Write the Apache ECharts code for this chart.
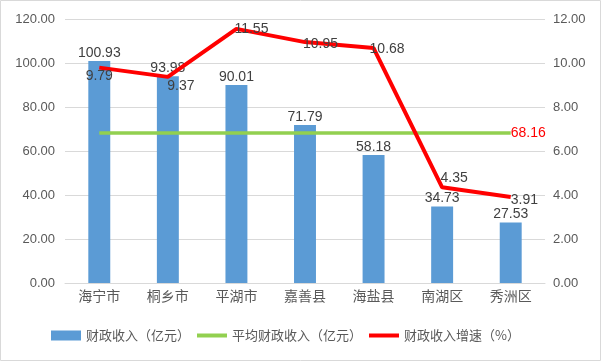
<!DOCTYPE html>
<html><head><meta charset="utf-8">
<script src="https://cdn.jsdelivr.net/npm/echarts@6/dist/echarts.min.js"></script>
<style>html,body{margin:0;padding:0;background:#fff}#c{width:602px;height:362px}</style>
</head><body><div id="c"></div>
<script>
var categories = ['海宁市','桐乡市','平湖市','嘉善县','海盐县','南湖区','秀洲区'];
var revenue = [100.93, 93.98, 90.01, 71.79, 58.18, 34.73, 27.53];
var avgRevenue = 68.16;
var growth = [9.79, 9.37, 11.55, 10.95, 10.68, 4.35, 3.91];
var leftTicks = {min: 0, max: 120, interval: 20};
var rightTicks = {min: 0, max: 12, interval: 2};
var seriesNames = ['财政收入（亿元）','平均财政收入（亿元）','财政收入增速（%）'];

var avgData = categories.map(function(){ return avgRevenue; });
var growthLabelPos = [
  {position:'bottom', distance:2, offset:[0,0]},
  {position:'bottom', distance:2, offset:[13,0]},
  {position:'right', distance:-2, offset:[0,0]},
  {position:'right', distance:-2, offset:[0,2]},
  {position:'right', distance:-4, offset:[0,1]},
  {position:'top', distance:2, offset:[12,0]},
  {position:'right', distance:0, offset:[0,3]}
];
var growthData = growth.map(function(v,i){
  var p = growthLabelPos[i];
  return {value: v, label: {show:true, position: p.position, distance: p.distance, offset: p.offset}};
});
var avgSeriesData = avgData.map(function(v,i){
  return i === avgData.length-1 ? {value: v, label:{show:true, position:'right', distance:0, color:'#ff0000', fontSize:14, fontFamily:'Liberation Sans', formatter: function(p){return p.value.toFixed(2);}}} : v;
});

var chart = echarts.init(document.getElementById('c'));
var font = 'Liberation Sans';
var lineIcon = 'path://M0,0 L30,0 L30,4 L0,4 Z';
chart.setOption({
  animation: false,
  textStyle: {fontFamily: font},
  graphic: [{type:'rect', shape:{x:0.5,y:0.5,width:600,height:360}, style:{fill:'none', stroke:'#d9d9d9', lineWidth:1}, silent:true}],
  grid: {left: 65, right: 57, top: 19, bottom: 79, containLabel:false},
  legend: {
    bottom: 15, left: 46, itemWidth: 30, itemHeight: 10, itemGap: 7,
    textStyle: {color:'#595959', fontSize:13, fontFamily:'Noto Sans CJK SC'},
    data: [
      {name: seriesNames[0], icon:'rect'},
      {name: seriesNames[1], icon: lineIcon},
      {name: seriesNames[2], icon: lineIcon}
    ]
  },
  xAxis: {
    type: 'category', data: categories,
    axisLine: {show:true, lineStyle:{color:'#d9d9d9'}},
    axisTick: {show:false},
    axisLabel: {color:'#595959', fontSize:14, fontFamily:'Noto Sans CJK SC', margin:6}
  },
  yAxis: [
    {type:'value', min:leftTicks.min, max:leftTicks.max, interval:leftTicks.interval,
     axisLine:{show:false}, axisTick:{show:false},
     splitLine:{lineStyle:{color:'#d9d9d9'}},
     axisLabel:{color:'#595959', fontSize:13, margin:10, formatter:function(v){return v.toFixed(2);}}},
    {type:'value', min:rightTicks.min, max:rightTicks.max, interval:rightTicks.interval,
     axisLine:{show:false}, axisTick:{show:false}, splitLine:{show:false},
     axisLabel:{color:'#595959', fontSize:13, margin:8, formatter:function(v){return v.toFixed(2);}}}
  ],
  series: [
    {name: seriesNames[0], type:'bar', data: revenue, barWidth:'32%',
     itemStyle:{color:'#5b9bd5'},
     label:{show:true, position:'top', distance:1, color:'#404040', fontSize:14,
            formatter:function(p){return p.value.toFixed(2);}}},
    {name: seriesNames[1], type:'line', data: avgSeriesData, symbol:'circle', symbolSize:0.01, showSymbol:true,
     lineStyle:{color:'#92d050', width:3.5}, itemStyle:{color:'#92d050'}},
    {name: seriesNames[2], type:'line', yAxisIndex:1, data: growthData, symbol:'circle', symbolSize:0.01, showSymbol:true,
     lineStyle:{color:'#ff0000', width:4}, itemStyle:{color:'#ff0000'},
     label:{show:true, color:'#404040', fontSize:14, formatter:function(p){return p.value.toFixed(2);}}}
  ]
});
</script></body></html>
